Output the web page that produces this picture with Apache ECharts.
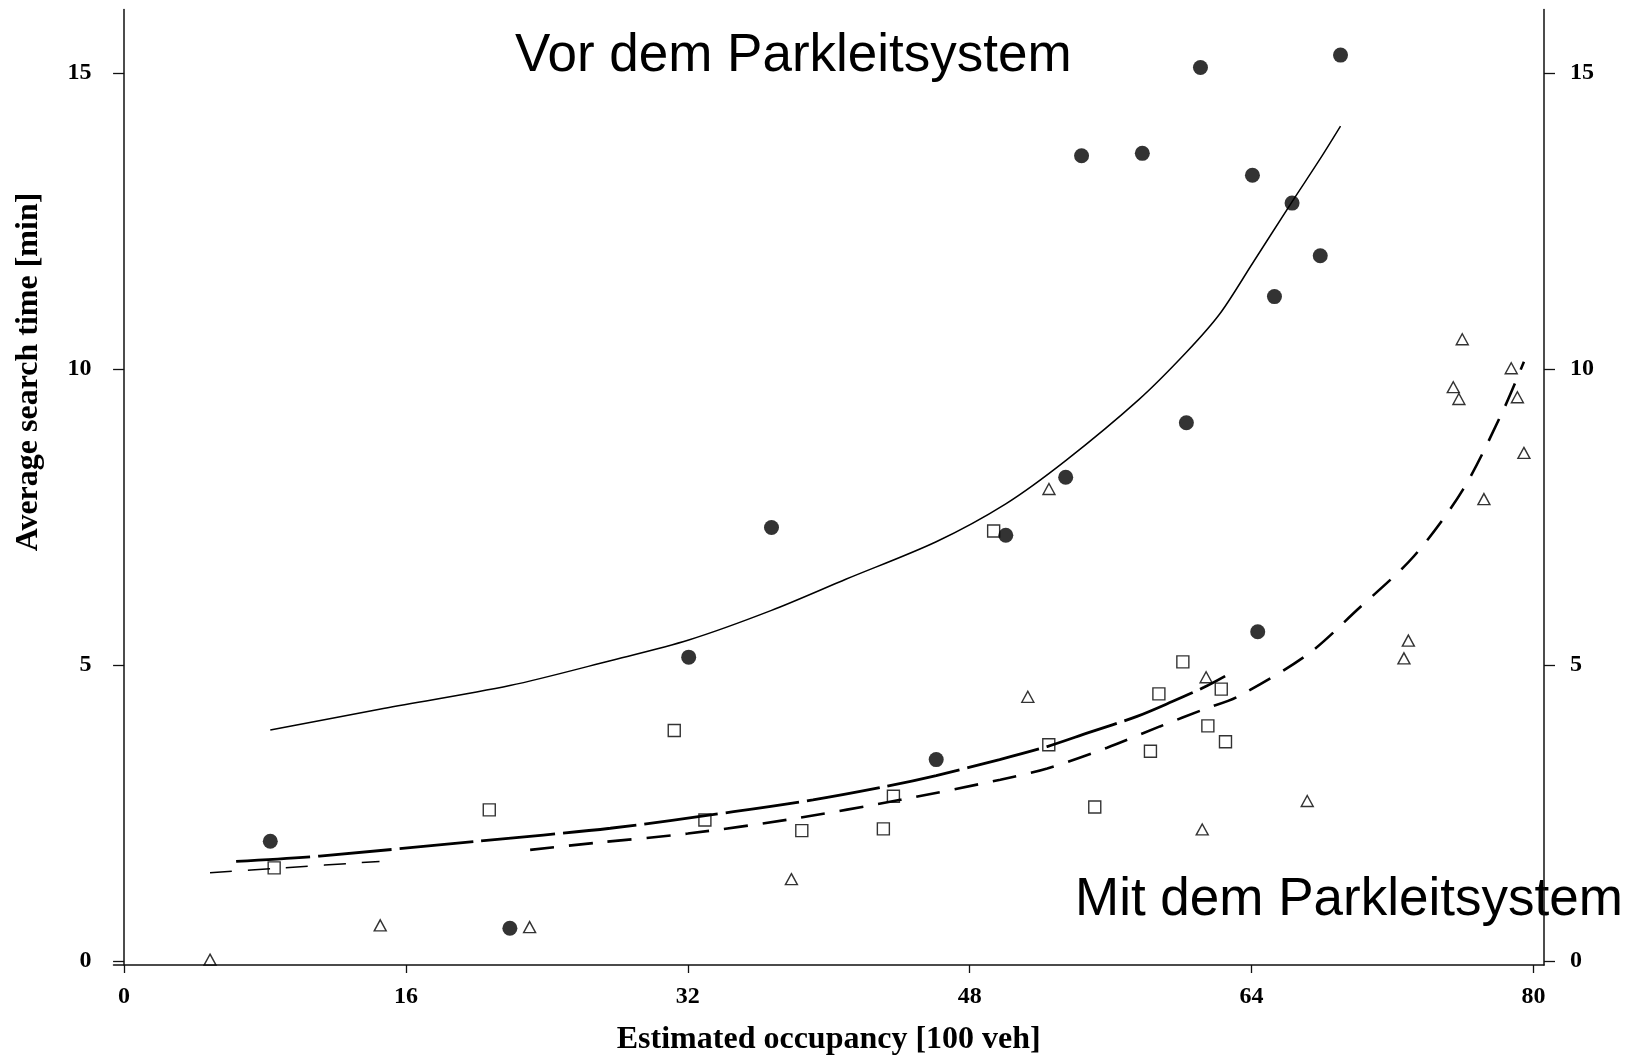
<!DOCTYPE html>
<html>
<head>
<meta charset="utf-8">
<script src="https://cdn.jsdelivr.net/npm/echarts@6/dist/echarts.min.js"></script>
<style>
html,body{margin:0;padding:0;background:#fff;}
#chart{width:1632px;height:1060px;}
</style>
</head>
<body>
<div id="chart"></div>
<script>
// ---- data ----
const xTickValues = [0, 16, 32, 48, 64, 80];
const yTickValues = [0, 5, 10, 15];

// filled circles: "Vor dem Parkleitsystem"
const circlesX = [8.3, 21.9, 32.05, 36.75, 46.1, 50.05, 53.45, 54.35, 57.8, 60.3, 61.1, 64.05, 64.35, 65.3, 66.3, 67.9, 69.05];
const circlesY = [2.02, 0.55, 5.13, 7.32, 3.40, 7.19, 8.17, 13.60, 13.64, 9.09, 15.09, 13.27, 5.56, 11.22, 12.80, 11.91, 15.30];

// hollow squares
const squaresX = [8.52, 20.73, 31.23, 32.97, 38.47, 43.1, 43.67, 49.36, 52.49, 55.1, 58.26, 58.74, 60.1, 61.52, 62.28, 62.52];
const squaresY = [1.57, 2.55, 3.89, 2.38, 2.20, 2.23, 2.78, 7.26, 3.65, 2.60, 3.54, 4.51, 5.05, 3.97, 4.59, 3.70];

// hollow triangles
const trianglesX = [4.88, 14.54, 23.02, 37.88, 51.3, 52.5, 61.2, 61.42, 67.16, 72.65, 72.9, 75.45, 75.77, 75.96, 77.19, 78.74, 79.09, 79.46];
const trianglesY = [0.02, 0.60, 0.57, 1.38, 4.46, 7.97, 2.22, 4.79, 2.70, 5.11, 5.41, 9.69, 9.49, 10.50, 7.80, 10.01, 9.52, 8.58];

// fitted curves
const fitBeforeX = [8.3, 14.5, 21.9, 27.6, 32.05, 36.75, 41, 46.1, 50.05, 53.45, 57.6, 60.3, 62.2, 64.05, 66.25, 67.9, 69.05];
const fitBeforeY = [3.90, 4.25, 4.65, 5.07, 5.42, 5.92, 6.45, 7.08, 7.72, 8.45, 9.48, 10.28, 10.93, 11.78, 12.80, 13.55, 14.10];

const fitSquaresX = [6.36, 11.1, 20.0, 27.6, 34.6, 39.1, 43.3, 46.1, 49.7, 52.4, 54.7, 57.5, 59.5, 61.3, 62.5];
const fitSquaresY = [1.68, 1.77, 2.02, 2.24, 2.52, 2.72, 2.95, 3.13, 3.40, 3.62, 3.85, 4.13, 4.38, 4.62, 4.81];

const fitTriLowX = [4.88, 9.0, 14.5];
const fitTriLowY = [1.49, 1.57, 1.68];

const fitTriX = [23.05, 26.65, 32, 38, 44.07, 49.74, 52.4, 55.8, 58.8, 61.3, 63.2, 67.2, 70, 73.2, 76, 78.3, 79.46];
const fitTriY = [1.875, 1.99, 2.15, 2.40, 2.72, 3.06, 3.25, 3.60, 3.96, 4.25, 4.46, 5.18, 5.93, 6.83, 7.96, 9.31, 10.12];

const xTitle = 'Estimated occupancy [100 veh]';
const yTitle = 'Average search time [min]';
const noteBefore = 'Vor dem Parkleitsystem';
const noteAfter = 'Mit dem Parkleitsystem';

// ---- helpers ----
const zip = (xs, ys) => xs.map((x, i) => [x, ys[i]]);

const INK = '#000';
const tickFont = {fontFamily: '"Liberation Serif", serif', fontWeight: 'bold', fontSize: 24, color: INK};

const chart = echarts.init(document.getElementById('chart'), null, {renderer: 'canvas'});

const commonY = {
  type: 'value', min: -0.07, max: 16.07,
  splitLine: {show: false},
  axisLine: {show: true, lineStyle: {color: '#111', width: 1.5}},
  axisTick: {show: true, length: 11, inside: false, customValues: yTickValues, lineStyle: {color: '#111', width: 1.3}},
  axisLabel: Object.assign({customValues: yTickValues}, tickFont)
};

const fitLine = (xs, ys, width, type) => ({
  type: 'line', data: zip(xs, ys), showSymbol: false, symbol: 'none', silent: true,
  smooth: 0.3,
  lineStyle: {color: '#000', width: width, type: type}, z: 2
});

const option = {
  animation: false,
  backgroundColor: '#fff',
  grid: {left: 113.5, right: 88, top: 9.5, bottom: 95, containLabel: false, outerBoundsMode: 'none'},
  xAxis: {
    type: 'value', min: -0.6, max: 80.6,
    splitLine: {show: false},
    axisLine: {show: true, onZero: false, lineStyle: {color: '#111', width: 1.5}},
    axisTick: {show: true, length: 8, customValues: xTickValues, lineStyle: {color: '#111', width: 1.3}},
    axisLabel: Object.assign({customValues: xTickValues, margin: 20}, tickFont),
    name: xTitle, nameLocation: 'middle', nameGap: 59,
    nameTextStyle: {fontFamily: '"Liberation Serif", serif', fontWeight: 'bold', fontSize: 32, color: INK}
  },
  yAxis: [
    Object.assign({}, commonY, {position: 'left', axisLabel: Object.assign({}, commonY.axisLabel, {margin: 22})}),
    Object.assign({}, commonY, {position: 'right', axisLabel: Object.assign({}, commonY.axisLabel, {margin: 26})})
  ],
  graphic: [
    {type: 'text', x: 29, y: 372, rotation: Math.PI / 2,
     style: {text: yTitle, font: 'bold 32px "Liberation Serif", serif', fill: INK, align: 'center', verticalAlign: 'middle'}},
    {type: 'text', x: 515, y: 56,
     style: {text: noteBefore, font: '53px "Liberation Sans", Arial, sans-serif', fill: '#000', align: 'left', verticalAlign: 'middle'}},
    {type: 'text', x: 1075, y: 900,
     style: {text: noteAfter, font: '53px "Liberation Sans", Arial, sans-serif', fill: '#000', align: 'left', verticalAlign: 'middle'}}
  ],
  series: [
    fitLine(fitBeforeX, fitBeforeY, 1.5, 'solid'),
    fitLine(fitSquaresX, fitSquaresY, 2.8, [74, 8]),
    fitLine(fitTriLowX, fitTriLowY, 1.5, [22, 16]),
    fitLine(fitTriX, fitTriY, 2.6, [24, 15]),
    {type: 'scatter', data: zip(circlesX, circlesY), symbol: 'circle', symbolSize: 15,
     itemStyle: {color: '#000'}, z: 3},
    {type: 'scatter', data: zip(squaresX, squaresY), symbol: 'rect', symbolSize: 12,
     itemStyle: {color: 'rgba(255,255,255,0)', borderColor: '#000', borderWidth: 1.4}, z: 3},
    {type: 'scatter', data: zip(trianglesX, trianglesY), symbol: 'triangle', symbolSize: [12, 11],
     itemStyle: {color: 'rgba(255,255,255,0)', borderColor: '#000', borderWidth: 1.4}, z: 3}
  ]
};

chart.setOption(option);
</script>
</body>
</html>
